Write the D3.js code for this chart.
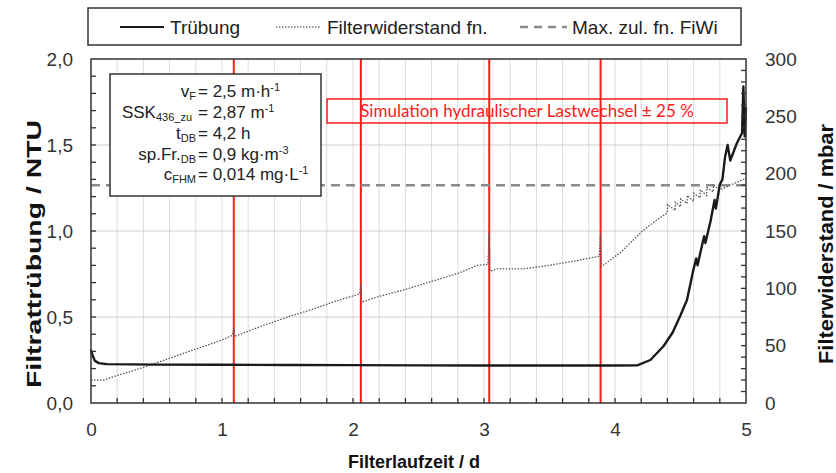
<!DOCTYPE html>
<html><head><meta charset="utf-8">
<script src="https://cdn.jsdelivr.net/npm/d3@7"></script>
<style>
body{margin:0;background:#fff;}
svg{display:block;font-family:"Liberation Sans",Arial,sans-serif;}
</style></head>
<body>
<svg id="chart" width="836" height="473"></svg>
<script>
// ---------------- data ----------------
const xTicks = [0,1,2,3,4,5];
const leftTicks = [0,0.5,1.0,1.5,2.0];
const rightTicks = [0,50,100,150,200,250,300];
const eventDays = [1.09,2.06,3.04,3.89];   // hydraulische Lastwechsel
const maxFiWi = 190;                        // mbar

const turbDays = [0.000,0.010,0.030,0.060,0.120,0.50,1.00,1.50,2.00,2.50,3.00,3.50,4.00,4.17,4.27,4.37,4.44,4.50,4.55,4.60,4.62,4.63,4.68,4.69,4.73,4.76,4.77,4.80,4.82,4.84,4.86,4.88,4.93,4.97,4.98,4.99,5.00];
const turbNTU  = [0.31,0.28,0.245,0.232,0.226,0.223,0.222,0.221,0.220,0.219,0.218,0.218,0.218,0.219,0.25,0.33,0.41,0.51,0.60,0.78,0.84,0.80,0.97,0.93,1.06,1.18,1.13,1.27,1.30,1.43,1.50,1.41,1.51,1.57,1.84,1.55,1.72];

const fwDays = [0.00,0.10,0.20,0.40,0.60,0.80,1.00,1.08,1.09,1.095,1.30,1.50,1.70,1.90,2.05,2.06,2.065,2.20,2.40,2.60,2.80,2.95,3.03,3.04,3.045,3.10,3.30,3.50,3.70,3.88,3.89,3.895,4.04,4.21,4.30,4.40,4.401,4.46,4.461,4.50,4.501,4.55,4.551,4.60,4.601,4.65,4.651,4.70,4.701,4.75,4.751,4.80,4.90,5.00];
const fwMbar = [20,20,24,31,39,47,55,59,65,58,67,75,82,90,95,103,88,93,99,106,113,120,121,148,115,117,117,120,124,128,148,119,131,150,158,166,173,168,175,171,178,174,181,176,183,179,186,181,188,184,190,186,191,196];

// ---------------- layout ----------------
const svg = d3.select("#chart");
const L=91, R=746, T=59, B=403;
const x  = d3.scaleLinear().domain([0,5]).range([L,R]);
const yL = d3.scaleLinear().domain([0,2]).range([B,T]);
const yR = d3.scaleLinear().domain([0,300]).range([B,T]);
const loc = d3.formatLocale({decimal:",",thousands:".",grouping:[3],currency:["","€"]});
const f1 = loc.format(".1f");

// grid
const g = svg.append("g");
g.selectAll("line.vg").data(d3.range(1,25).map(i=>i*0.2)).join("line")
  .attr("x1",d=>x(d)).attr("x2",d=>x(d)).attr("y1",T).attr("y2",B)
  .attr("stroke","#dcdcdc").attr("stroke-width",1);
g.selectAll("line.hg").data([0.5,1.0,1.5]).join("line")
  .attr("x1",L).attr("x2",R).attr("y1",d=>yL(d)).attr("y2",d=>yL(d))
  .attr("stroke","#d0d0d0").attr("stroke-width",1);

// event lines
svg.append("g").selectAll("line").data(eventDays).join("line")
  .attr("x1",d=>x(d)).attr("x2",d=>x(d)).attr("y1",T).attr("y2",B)
  .attr("stroke","#ff1a1a").attr("stroke-width",2);

// max line
svg.append("line").attr("x1",L).attr("x2",R).attr("y1",yR(maxFiWi)).attr("y2",yR(maxFiWi))
  .attr("stroke","#8a8a8a").attr("stroke-width",2.5).attr("stroke-dasharray","9,6");

// filter resistance (dotted)
svg.append("path").datum(fwDays.map((d,i)=>[d,fwMbar[i]]))
  .attr("d",d3.line().x(d=>x(d[0])).y(d=>yR(d[1])))
  .attr("fill","none").attr("stroke","#555").attr("stroke-width",1.3).attr("stroke-dasharray","1.5,1.5");

// turbidity
svg.append("path").datum(turbDays.map((d,i)=>[d,turbNTU[i]]))
  .attr("d",d3.line().x(d=>x(d[0])).y(d=>yL(d[1])))
  .attr("fill","none").attr("stroke","#1a1a1a").attr("stroke-width",2.4).attr("stroke-linejoin","round");

// frame
svg.append("rect").attr("x",L).attr("y",T).attr("width",R-L).attr("height",B-T)
  .attr("fill","none").attr("stroke","#333").attr("stroke-width",1.5);

// minor ticks (inward)
const tk = svg.append("g").attr("stroke","#333").attr("stroke-width",1.3);
tk.selectAll("line.lt").data(d3.range(1,20).map(i=>i*0.1)).join("line")
  .attr("x1",L).attr("x2",L+5).attr("y1",d=>yL(d)).attr("y2",d=>yL(d));
tk.selectAll("line.rt").data(d3.range(1,30).map(i=>i*10)).join("line")
  .attr("x1",R).attr("x2",R-5).attr("y1",d=>yR(d)).attr("y2",d=>yR(d));
tk.selectAll("line.bt").data(d3.range(1,25).map(i=>i*0.2)).join("line")
  .attr("x1",d=>x(d)).attr("x2",d=>x(d)).attr("y1",B).attr("y2",B-5);

// axes labels
function styleAxis(sel){
  sel.select(".domain").remove();
  sel.selectAll(".tick line").remove();
  sel.selectAll("text").attr("font-size",19).attr("fill","#333").attr("font-family","'Liberation Sans',Arial,sans-serif");
}
svg.append("g").attr("transform",`translate(${L},0)`)
  .call(d3.axisLeft(yL).tickValues(leftTicks).tickFormat(f1).tickSize(0).tickPadding(18)).call(styleAxis);
svg.append("g").attr("transform",`translate(${R},0)`)
  .call(d3.axisRight(yR).tickValues(rightTicks).tickSize(0).tickPadding(19)).call(styleAxis);
svg.append("g").attr("transform",`translate(0,${B})`)
  .call(d3.axisBottom(x).tickValues(xTicks).tickFormat(d3.format("d")).tickSize(0).tickPadding(20)).call(styleAxis);

// axis titles
svg.append("text").attr("transform","translate(41,254) rotate(-90)").attr("text-anchor","middle")
  .attr("font-size",20).attr("font-weight","bold").attr("fill","#111")
  .attr("textLength",268).attr("lengthAdjust","spacingAndGlyphs").text("Filtrattrübung / NTU");
svg.append("text").attr("transform","translate(833,244) rotate(-90)").attr("text-anchor","middle")
  .attr("font-size",20).attr("font-weight","bold").attr("fill","#111")
  .attr("textLength",240).attr("lengthAdjust","spacingAndGlyphs").text("Filterwiderstand / mbar");
svg.append("text").attr("x",414).attr("y",468).attr("text-anchor","middle")
  .attr("font-size",18).attr("font-weight","bold").attr("fill","#111").text("Filterlaufzeit / d");

// legend
const lg = svg.append("g");
lg.append("rect").attr("x",88).attr("y",8).attr("width",653).attr("height",37)
  .attr("fill","#fff").attr("stroke","#333").attr("stroke-width",1.5);
lg.append("line").attr("x1",120).attr("x2",164).attr("y1",27).attr("y2",27).attr("stroke","#1a1a1a").attr("stroke-width",2);
lg.append("text").attr("x",170).attr("y",34).attr("font-size",19).attr("fill","#222").text("Trübung");
lg.append("line").attr("x1",276).attr("x2",320).attr("y1",27).attr("y2",27).attr("stroke","#777").attr("stroke-width",1.3).attr("stroke-dasharray","1.5,1.5");
lg.append("text").attr("x",327).attr("y",34).attr("font-size",19).attr("fill","#222").text("Filterwiderstand fn.");
lg.append("line").attr("x1",520).attr("x2",567).attr("y1",27).attr("y2",27).attr("stroke","#8a8a8a").attr("stroke-width",2.5).attr("stroke-dasharray","8,6");
lg.append("text").attr("x",572).attr("y",34).attr("font-size",19).attr("fill","#222").text("Max. zul. fn. FiWi");

// info box
const ib = svg.append("g");
ib.append("rect").attr("x",110).attr("y",74).attr("width",211).attr("height",122)
  .attr("fill","#fff").attr("stroke","#333").attr("stroke-width",1.5);
const infoLeft = [[["v"],["F","sub"]],[["SSK"],["436_zu","sub"]],[["t"],["DB","sub"]],[["sp.Fr."],["DB","sub"]],[["c"],["FHM","sub"]]];
const infoRight = [[["= 2,5 m·h"],["-1","sup"]],[["= 2,87 m"],["-1","sup"]],[["= 4,2 h"]],[["= 0,9 kg·m"],["-3","sup"]],[["= 0,014 mg·L"],["-1","sup"]]];
const baselines = [97,118,139,160,180];
function rich(txt, segs){
  let shift = 0;
  segs.forEach(s=>{
    const want = s[1]==="sub"?3:(s[1]==="sup"?-6:0);
    const ts = txt.append("tspan").attr("dy",want-shift).text(s[0]);
    if(s[1]) ts.attr("font-size",11);
    shift = want;
  });
}
baselines.forEach((b,i)=>{
  const tl = ib.append("text").attr("x",i===1?192:196).attr("y",b).attr("text-anchor","end").attr("font-size",17).attr("fill","#222");
  rich(tl, infoLeft[i]);
  const tr = ib.append("text").attr("x",198).attr("y",b).attr("font-size",17).attr("fill","#222");
  rich(tr, infoRight[i]);
});

// simulation box
svg.append("rect").attr("x",327).attr("y",99).attr("width",400).attr("height",24)
  .attr("fill","none").attr("stroke","#ff1a1a").attr("stroke-width",1.5);
svg.append("text").attr("x",527).attr("y",117).attr("text-anchor","middle")
  .attr("font-family","Lato,'Open Sans',sans-serif").attr("font-size",17).attr("fill","#ff1a1a")
  .text("Simulation hydraulischer Lastwechsel ± 25 %");
</script>
</body></html>
